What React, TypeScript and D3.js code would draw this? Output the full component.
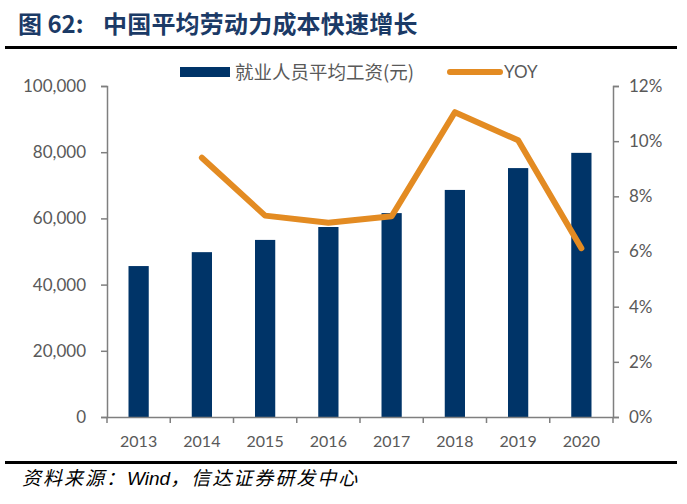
import { useEffect, useRef } from "react";
import * as d3 from "d3";

const years = ["2013", "2014", "2015", "2016", "2017", "2018", "2019", "2020"];
const wages = [45600, 49800, 53500, 57400, 61600, 68600, 75200, 79800];
const yoyYears = ["2014", "2015", "2016", "2017", "2018", "2019", "2020"];
const yoy = [9.4, 7.3, 7.04, 7.28, 11.05, 10.03, 6.12];
const leftTicks = [0, 20000, 40000, 60000, 80000, 100000];
const rightTicks = [0, 2, 4, 6, 8, 10, 12];

const COLORS = {
  bar: "#003468",
  line: "#E38B22",
  axis: "#7f7f7f",
  text: "#595959",
  title: "#1b3a66",
};

const W = 687;
const H = 504;
const plot = { left: 107, right: 613, top: 86, bottom: 417 };
const numFont = "Lato, 'Noto Sans', sans-serif";
const cjkFont = "'Noto Sans CJK SC', sans-serif";

export default function App() {
  const svgRef = useRef<SVGSVGElement>(null);

  useEffect(() => {
    document.body.style.margin = "0";
    if (!svgRef.current) return;
    const svg = d3.select(svgRef.current);
    svg.selectAll("*").remove();

    const x = d3.scaleBand().domain(years).range([plot.left, plot.right]).paddingInner(0.68).paddingOuter(0.34);
    const xb = d3.scaleBand().domain(years).range([plot.left, plot.right]);
    const yL = d3.scaleLinear().domain([0, 100000]).range([plot.bottom, plot.top]);
    const yR = d3.scaleLinear().domain([0, 12]).range([plot.bottom, plot.top]);

    // title + rules
    svg.append("text")
      .attr("x", 18).attr("y", 33)
      .attr("font-family", cjkFont).attr("font-size", 24).attr("font-weight", 700)
      .attr("fill", COLORS.title)
      .text("图 62:");
    svg.append("text")
      .attr("x", 103).attr("y", 33)
      .attr("font-family", cjkFont).attr("font-size", 24).attr("font-weight", 700)
      .attr("letter-spacing", 0.2)
      .attr("fill", COLORS.title)
      .text("中国平均劳动力成本快速增长");
    svg.append("rect").attr("x", 5).attr("y", 46).attr("width", 672).attr("height", 3).attr("fill", "#000");
    svg.append("rect").attr("x", 5).attr("y", 461).attr("width", 672).attr("height", 3).attr("fill", "#000");

    // source note
    const src = svg.append("text")
      .attr("x", 22).attr("y", 485)
      .attr("font-family", cjkFont).attr("font-size", 19).attr("font-style", "italic")
      .attr("fill", "#000");
    src.append("tspan").attr("letter-spacing", 2).text("资料来源：");
    src.append("tspan").attr("font-family", "'Liberation Sans', Arial, sans-serif").text("Wind");
    src.append("tspan").attr("letter-spacing", 2).text("，信达证券研发中心");

    // bars
    svg.append("g").selectAll("rect")
      .data(years.map((yr, i) => ({ yr, v: wages[i] })))
      .join("rect")
      .attr("x", (d) => x(d.yr) ?? 0)
      .attr("width", x.bandwidth())
      .attr("y", (d) => yL(d.v))
      .attr("height", (d) => plot.bottom - yL(d.v))
      .attr("fill", COLORS.bar);

    // left axis
    const gl = svg.append("g").attr("transform", `translate(${plot.left},0)`)
      .call(d3.axisLeft(yL).tickValues(leftTicks).tickSize(6).tickPadding(15).tickFormat((d) => d3.format(",")(Number(d))));
    // right axis
    const gr = svg.append("g").attr("transform", `translate(${plot.right},0)`)
      .call(d3.axisRight(yR).tickValues(rightTicks).tickSize(6).tickPadding(10).tickFormat((d) => `${d}%`));
    // x axis
    const gx = svg.append("g").attr("transform", `translate(0,${plot.bottom})`)
      .call(d3.axisBottom(xb).tickSize(0).tickPadding(19));
    gx.selectAll(".tick").append("line")
      .attr("x1", xb.bandwidth() / 2).attr("x2", xb.bandwidth() / 2)
      .attr("y1", 0).attr("y2", 6)
      .attr("stroke", COLORS.axis).attr("stroke-width", 1.5);
    gx.append("line")
      .attr("x1", plot.left).attr("x2", plot.left).attr("y1", 0).attr("y2", 6)
      .attr("stroke", COLORS.axis).attr("stroke-width", 1.5);

    [gl, gr, gx].forEach((g) => {
      g.select(".domain").attr("stroke", COLORS.axis).attr("stroke-width", 1.5);
      g.selectAll(".tick line").attr("stroke", COLORS.axis).attr("stroke-width", 1.5);
      g.selectAll("text").attr("fill", COLORS.text).attr("font-family", numFont).attr("font-size", 17);
    });
    gx.selectAll("text").attr("font-size", 16);

    // yoy line
    const line = d3.line<number>()
      .x((_, i) => (xb(yoyYears[i]) ?? 0) + xb.bandwidth() / 2)
      .y((d) => yR(d));
    svg.append("path")
      .datum(yoy)
      .attr("d", line)
      .attr("fill", "none")
      .attr("stroke", COLORS.line)
      .attr("stroke-width", 6)
      .attr("stroke-linejoin", "round")
      .attr("stroke-linecap", "round");

    // legend
    const lg = svg.append("g");
    lg.append("rect").attr("x", 180).attr("y", 67).attr("width", 50).attr("height", 10).attr("fill", COLORS.bar);
    lg.append("text").attr("x", 235).attr("y", 78.5)
      .attr("font-family", cjkFont).attr("font-size", 18.5).attr("fill", COLORS.text)
      .text("就业人员平均工资(元)");
    lg.append("line").attr("x1", 450).attr("x2", 500).attr("y1", 72).attr("y2", 72)
      .attr("stroke", COLORS.line).attr("stroke-width", 6).attr("stroke-linecap", "round");
    lg.append("text").attr("x", 504).attr("y", 78)
      .attr("font-family", numFont).attr("font-size", 17).attr("fill", COLORS.text)
      .text("YOY");
  }, []);

  return <svg ref={svgRef} width={W} height={H} style={{ display: "block", background: "#fff" }} />;
}
